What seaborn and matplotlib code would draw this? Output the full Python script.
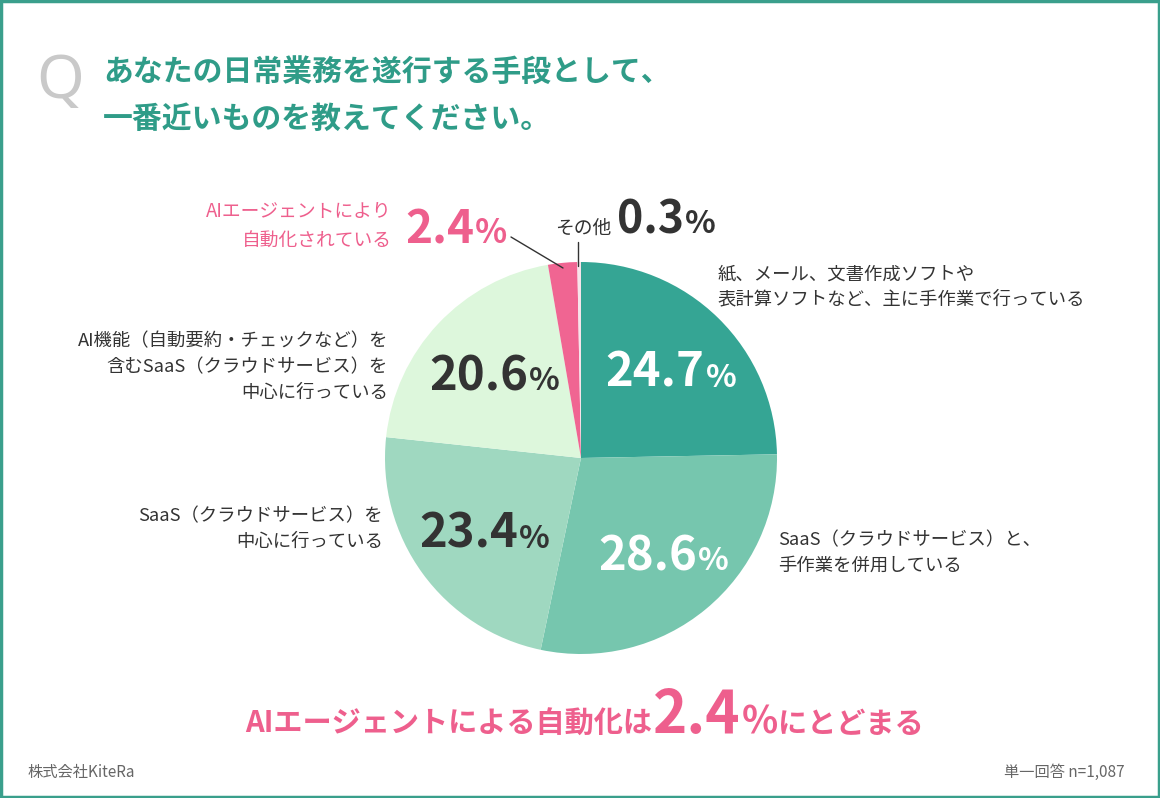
import numpy as np
import seaborn as sns
import matplotlib.pyplot as plt
from matplotlib.transforms import IdentityTransform
from matplotlib.patches import Rectangle

# data
answers = [
    "紙、メール、文書作成ソフトや\n表計算ソフトなど、主に手作業で行っている",
    "SaaS（クラウドサービス）と、\n手作業を併用している",
    "SaaS（クラウドサービス）を\n中心に行っている",
    "AI機能（自動要約・チェックなど）を\n含むSaaS（クラウドサービス）を\n中心に行っている",
    "AIエージェントにより\n自動化されている",
    "その他",
]
shares = [24.7, 28.6, 23.4, 20.6, 2.4, 0.3]
colors = ["#35a594", "#76c6ae", "#9fd8c0", "#ddf7dc", "#f06592", "#f7e3ea"]
pct_colors = ["white", "white", "#333333", "#333333"]

title = "あなたの日常業務を遂行する手段として、\n一番近いものを教えてください。"
headline = ["AIエージェントによる自動化は", "2.4", "にとどまる"]
company = "株式会社KiteRa"
note = "単一回答 n=1,087"

W, H = 1160, 798
TEAL = "#2f9c88"
PINK = "#ee5f8d"
DARK = "#333333"

sns.set_theme(style="white")
plt.rcParams["font.family"] = ["Noto Sans CJK JP", "DejaVu Sans"]

fig = plt.figure(figsize=(W / 100, H / 100), dpi=100)
fig.patch.set_facecolor("white")
px = IdentityTransform()


def T(x, y, s, **kw):
    return fig.text(x, H - y, s, transform=px, **kw)


# frame
fig.patches.append(Rectangle((1, 1), W - 2, H - 2, transform=px, fill=False,
                             edgecolor="#3a9f8c", linewidth=2.5))

# pie
cx, cy, r = 581, 458, 196
ax = fig.add_axes([(cx - r) / W, (H - cy - r) / H, 2 * r / W, 2 * r / H])
wedges, _ = ax.pie(shares, colors=colors, startangle=90, counterclock=False,
                   radius=1, wedgeprops=dict(linewidth=0))
ax.set_xlim(-1, 1)
ax.set_ylim(-1, 1)
ax.set_aspect("auto")
ax.axis("off")

fig.canvas.draw()
renderer = fig.canvas.get_renderer()


def num_pct(x, y, num, size, psize, color, ha="center"):
    # number with a smaller % sign; returns right edge in pixels
    t1 = T(x, y, num, fontsize=size, fontweight="bold", color=color, va="baseline", ha="left")
    t2 = T(x, y, "%", fontsize=psize, fontweight="bold", color=color, va="baseline", ha="left")
    w1 = t1.get_window_extent(renderer).width
    w2 = t2.get_window_extent(renderer).width
    x0 = {"center": x - (w1 + w2) / 2, "left": x, "right": x - w1 - w2}[ha]
    t1.set_position((x0, H - y))
    t2.set_position((x0 + w1 + 1, H - y))
    return x0 + w1 + 1 + w2


# inside percentages
for w, v, c in zip(wedges[:4], shares[:4], pct_colors):
    ang = np.deg2rad((w.theta1 + w.theta2) / 2)
    x, y = ax.transData.transform((0.63 * np.cos(ang), 0.63 * np.sin(ang)))
    num_pct(x + 3, H - y + 17, f"{v}", 34, 23, c)

# title
T(36, 98, "Q", fontsize=44, color="#c9c9c9", fontweight="light", va="baseline",
  family=["Noto Sans", "DejaVu Sans"])
T(103, 95, title, fontsize=21.5, fontweight="bold", color=TEAL, va="center",
  linespacing=1.72)

# outside labels
T(718, 287, answers[0], fontsize=13.2, color=DARK, va="center", ha="left", linespacing=1.55)
T(778, 553, answers[1], fontsize=13.2, color=DARK, va="center", ha="left", linespacing=1.55)
T(383, 529, answers[2], fontsize=13.2, color=DARK, va="center", ha="right", linespacing=1.55)
T(388, 367, answers[3], fontsize=13.2, color=DARK, va="center", ha="right", linespacing=1.55)
T(392, 226, answers[4], fontsize=13.5, color=PINK, va="center", ha="right", linespacing=1.5)
num_pct(405, 243, f"{shares[4]}", 33, 24, PINK, ha="left")
T(555, 228, answers[5], fontsize=13.5, color=DARK, va="center", ha="left")
num_pct(617, 233, f"{shares[5]}", 32, 23, DARK, ha="left")

# leader lines
ax2 = fig.add_axes([0, 0, 1, 1], facecolor="none")
ax2.set_xlim(0, W)
ax2.set_ylim(H, 0)
ax2.axis("off")
ax2.plot([511, 563], [237, 268], color=DARK, lw=1)
ax2.plot([578, 578], [242, 266], color=DARK, lw=1)

# headline
t1 = T(245, 733, headline[0], fontsize=21, fontweight="bold", color=PINK, va="baseline")
w1 = t1.get_window_extent(renderer).width
xe = num_pct(245 + w1 + 1, 733, headline[1], 42, 27, PINK, ha="left")
T(xe, 733, headline[2], fontsize=21, fontweight="bold", color=PINK, va="baseline")

# footer
T(27, 772, company, fontsize=11, color="#666666", va="center")
T(1125, 772, note, fontsize=11, color="#666666", va="center", ha="right")

fig.savefig("out.png", dpi=100, facecolor="white")
